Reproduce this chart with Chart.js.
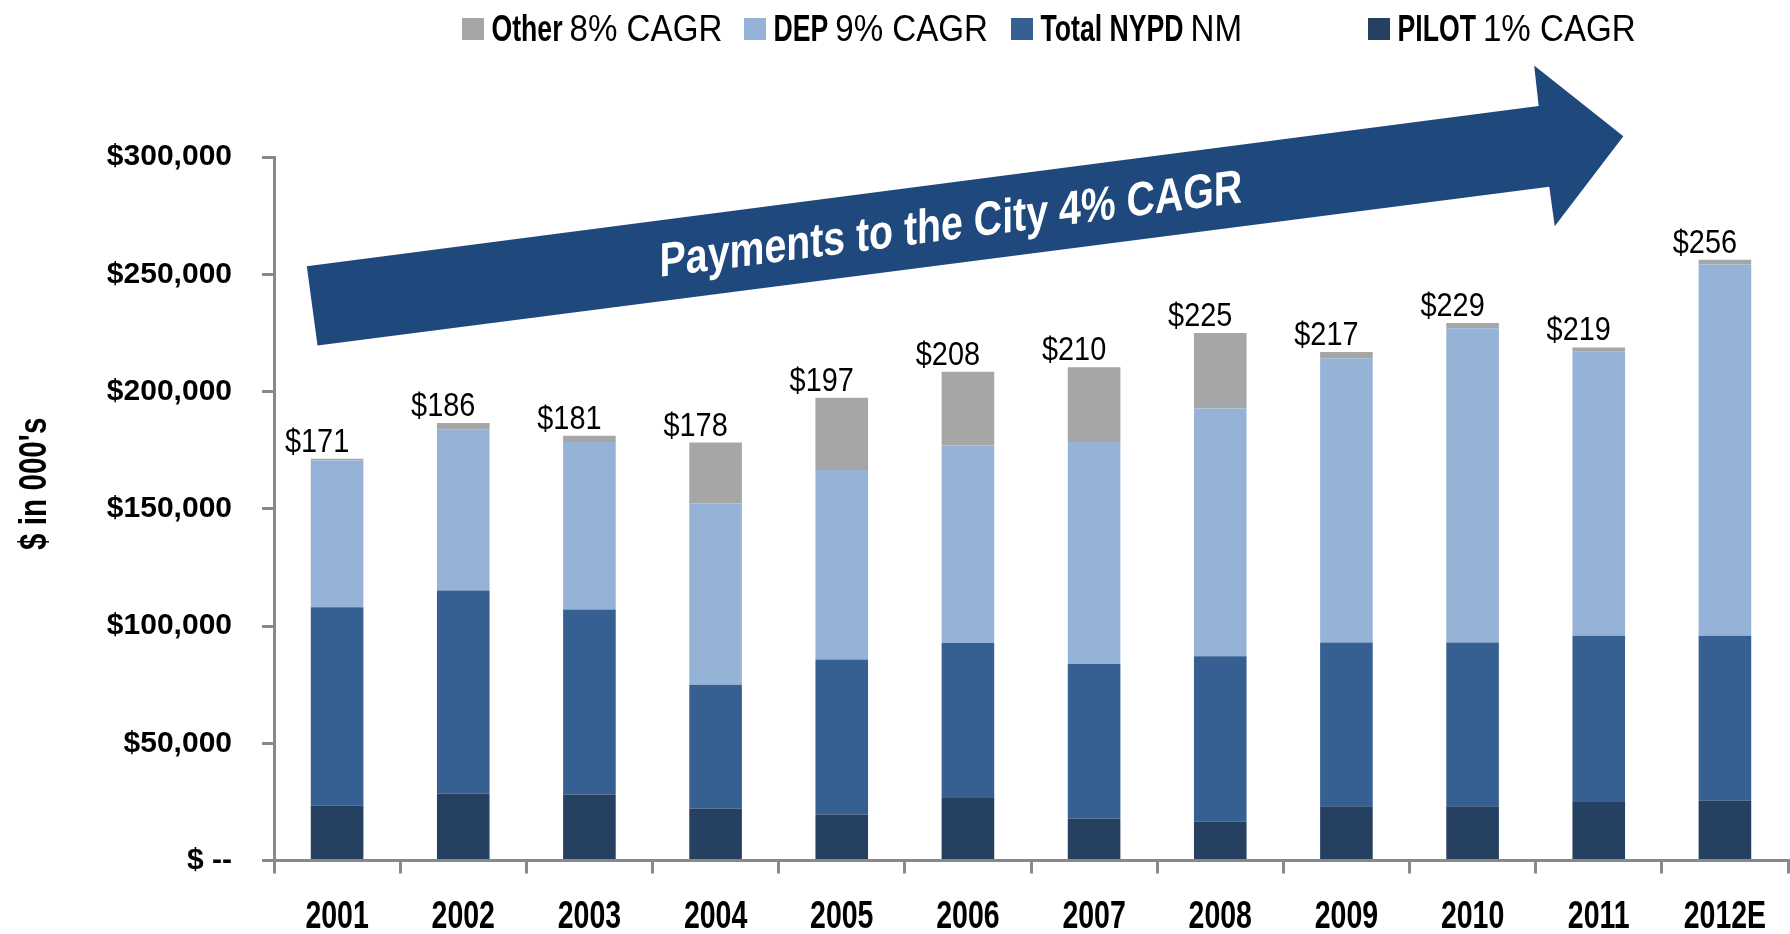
<!DOCTYPE html>
<html>
<head>
<meta charset="utf-8">
<script src="https://cdn.jsdelivr.net/npm/chart.js@4.4.1/dist/chart.umd.min.js"></script>
<style>
  html, body { margin: 0; padding: 0; background: #ffffff; }
  #wrap { width: 1790px; height: 934px; position: relative; }
  canvas { display: block; }
</style>
</head>
<body>
<div id="wrap"><canvas id="c" width="1790" height="934"></canvas></div>
<script>
// ---------- data (values in $000s) ----------
const categories = ['2001','2002','2003','2004','2005','2006','2007','2008','2009','2010','2011','2012E'];
const pilot = [23300, 28600, 28100, 22200, 19600, 26600, 17900, 16500, 23100, 23100, 25000, 25500];
const nypd  = [84700, 86500, 78900, 52700, 66100, 66200, 65900, 70600, 69900, 69900, 70800, 70300];
const dep   = [62600, 68800, 71500, 77300, 80800, 84200, 94700, 105600, 121200, 134000, 121200, 158400];
const other = [700, 2700, 2600, 26000, 30800, 31400, 31800, 32200, 2600, 2200, 1800, 2000];
const totals = [171, 186, 181, 178, 197, 208, 210, 225, 217, 229, 219, 256];
const seriesNames = ['PILOT', 'Total NYPD', 'DEP', 'Other'];
const seriesNotes = ['1% CAGR', 'NM', '9% CAGR', '8% CAGR'];
const seriesColors = ['#254061', '#366092', '#95b3d7', '#a6a6a6'];
const yTickLabels = ['$ --', '$50,000', '$100,000', '$150,000', '$200,000', '$250,000', '$300,000'];
const yTitle = "$ in 000's";
const arrowCaption = 'Payments to the City 4% CAGR';

// ---------- decoration geometry (in data space: category index, value) ----------
const arrowShape = {
  idx: [-0.155, -0.240, 9.524, 9.488, 10.195, 9.651, 9.608],
  val: [219600, 253400, 321700, 339000, 308900, 270500, 287300],
  textIdx: 4.865, textVal: 264800, shear: -0.128
};

function drawText(ctx, text, x, y, font, sx, align, baseline, color) {
  ctx.save();
  ctx.translate(x, y);
  ctx.scale(sx, 1);
  ctx.font = font;
  ctx.textAlign = align;
  ctx.textBaseline = baseline;
  ctx.fillStyle = color;
  ctx.fillText(text, 0, 0);
  ctx.restore();
}

const decorPlugin = {
  id: 'decor',
  afterDraw(chart) {
    const ctx = chart.ctx;
    const xs = chart.scales.x, ys = chart.scales.y;

    // arrow
    ctx.save();
    ctx.fillStyle = '#1f497d';
    ctx.beginPath();
    arrowShape.idx.forEach((ix, k) => {
      const px = xs.getPixelForValue(ix), py = ys.getPixelForValue(arrowShape.val[k]);
      if (k === 0) ctx.moveTo(px, py); else ctx.lineTo(px, py);
    });
    ctx.closePath();
    ctx.fill();
    ctx.restore();

    // arrow caption (sheared)
    ctx.save();
    const tx = xs.getPixelForValue(arrowShape.textIdx), ty = ys.getPixelForValue(arrowShape.textVal);
    const sx = 0.818;
    ctx.translate(tx, ty);
    ctx.transform(sx, arrowShape.shear * sx, 0, 1, 0, 0);
    ctx.font = 'bold 48px "Liberation Sans", Arial, sans-serif';
    ctx.textAlign = 'center';
    ctx.textBaseline = 'alphabetic';
    ctx.fillStyle = '#ffffff';
    ctx.fillText(arrowCaption, 0, 0);
    ctx.restore();

    // category labels along the x axis (condensed)
    xs.ticks.forEach((t, i) => {
      const px = xs.getPixelForTick(i);
      drawText(ctx, xs.getLabelForValue(t.value), px, xs.top + 67.5,
        'bold 38px "Liberation Sans", Arial, sans-serif', 0.75, 'center', 'alphabetic', '#000000');
    });

    // total labels
    const n = categories.length;
    for (let i = 0; i < n; i++) {
      let sum = 0;
      chart.data.datasets.forEach(ds => { sum += ds.data[i]; });
      const px = xs.getPixelForValue(i) - 20;
      const py = ys.getPixelForValue(sum) - 7;
      drawText(ctx, '$' + totals[i], px, py, '34px "Liberation Sans", Arial, sans-serif', 0.85, 'center', 'alphabetic', '#000000');
    }

    // y axis title
    ctx.save();
    ctx.translate(46, (ys.top + ys.bottom) / 2 - 25);
    ctx.rotate(-Math.PI / 2);
    ctx.scale(0.78, 1);
    ctx.font = 'bold 38px "Liberation Sans", Arial, sans-serif';
    ctx.textAlign = 'center';
    ctx.textBaseline = 'alphabetic';
    ctx.fillStyle = '#000000';
    ctx.fillText(yTitle, 0, 0);
    ctx.restore();

    // legend
    const opts = chart.options.plugins.decor;
    opts.legendOrder.forEach((dsIndex, j) => {
      const ds = chart.data.datasets[dsIndex];
      const x0 = opts.legendX[j];
      ctx.save();
      ctx.fillStyle = ds.backgroundColor;
      ctx.fillRect(x0, 18, 22, 22);
      ctx.restore();
      const boldFont = 'bold 36px "Liberation Sans", Arial, sans-serif';
      const regFont = '36px "Liberation Sans", Arial, sans-serif';
      const bx = x0 + 29.5;
      drawText(ctx, ds.label, bx, 41, boldFont, 0.74, 'left', 'alphabetic', '#000000');
      ctx.save();
      ctx.font = boldFont;
      const bw = ctx.measureText(ds.label).width * 0.74;
      ctx.restore();
      drawText(ctx, seriesNotes[dsIndex], bx + bw + 7, 41, regFont, 0.92, 'left', 'alphabetic', '#000000');
    });
  }
};

const axisGray = '#898989';

new Chart(document.getElementById('c').getContext('2d'), {
  type: 'bar',
  data: {
    labels: categories,
    datasets: [
      { label: seriesNames[0], data: pilot, backgroundColor: seriesColors[0] },
      { label: seriesNames[1], data: nypd,  backgroundColor: seriesColors[1] },
      { label: seriesNames[2], data: dep,   backgroundColor: seriesColors[2] },
      { label: seriesNames[3], data: other, backgroundColor: seriesColors[3] }
    ]
  },
  options: {
    responsive: false,
    animation: false,
    devicePixelRatio: 1,
    layout: { padding: { top: 157, right: 2, bottom: 0, left: 0 } },
    datasets: { bar: { categoryPercentage: 1, barPercentage: 0.417, borderWidth: 0 } },
    plugins: {
      legend: { display: false },
      tooltip: { enabled: false },
      decor: { legendOrder: [3, 2, 1, 0], legendX: [462, 744, 1011, 1368] }
    },
    scales: {
      x: {
        stacked: true,
        grid: { display: true, drawOnChartArea: false, drawTicks: true, tickLength: 13, color: axisGray, lineWidth: 3, offset: true },
        border: { display: true, color: axisGray, width: 3 },
        ticks: { display: false, autoSkip: false, maxRotation: 0, minRotation: 0 },
        afterFit: (s) => { s.height = 73.5; }
      },
      y: {
        stacked: true,
        min: 0, max: 300000,
        grid: { display: true, drawOnChartArea: false, drawTicks: true, tickLength: 12, color: axisGray, lineWidth: 3 },
        border: { display: true, color: axisGray, width: 3 },
        ticks: {
          stepSize: 50000,
          color: '#000000',
          font: { family: '"Liberation Sans", Arial, sans-serif', weight: 'bold', size: 30 },
          padding: 30,
          callback: (v) => yTickLabels[Math.round(v / 50000)]
        },
        afterFit: (s) => { s.width = 274; }
      }
    }
  },
  plugins: [decorPlugin]
});
</script>
</body>
</html>
